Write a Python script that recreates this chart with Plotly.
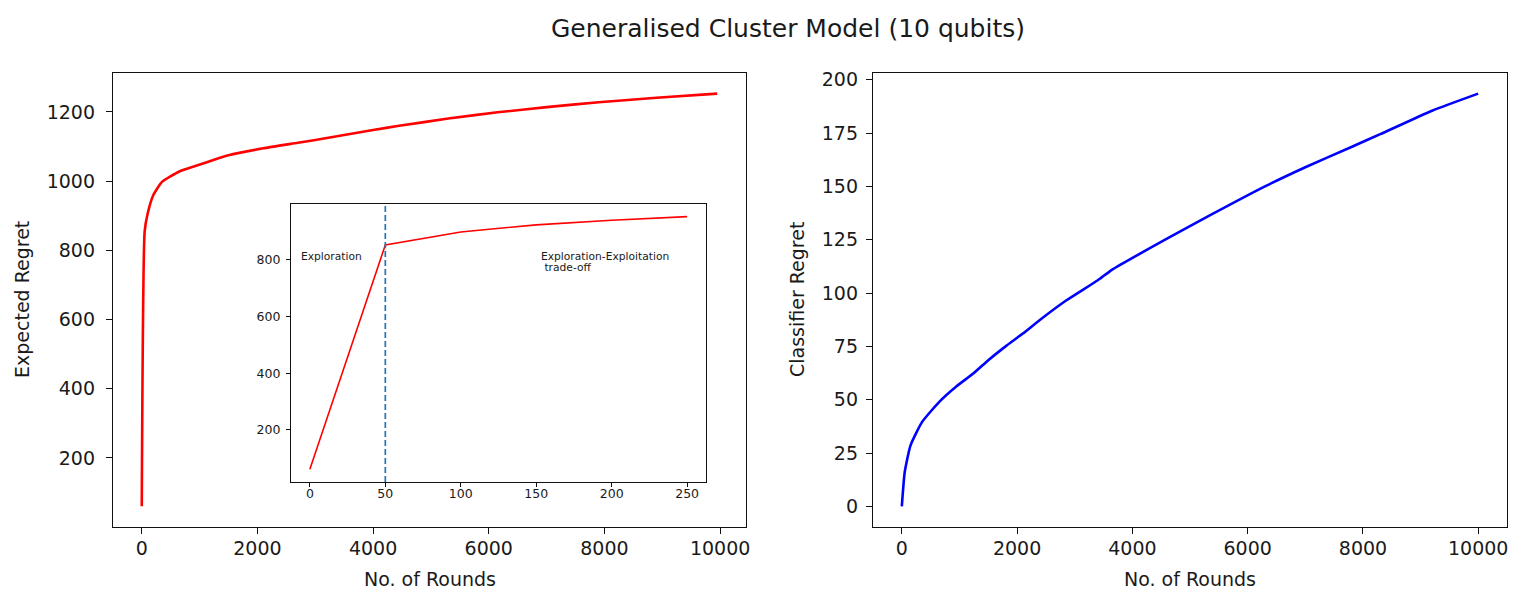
import plotly.graph_objects as go

# ---- data ----
main_rounds = [0, 50, 100, 200, 350, 650, 950, 1250, 1500, 2100, 2700, 3250, 4000,
               4450, 5300, 6150, 7000, 7900, 8900, 9950]
main_regret = [60, 855, 905, 960, 998, 1028, 1045, 1062, 1075, 1095, 1111, 1126, 1148,
               1160, 1181, 1199, 1214, 1228, 1241, 1253]

inset_rounds = [0, 50, 100, 150, 200, 250]
inset_regret = [60, 853, 899, 924, 940, 953]
exploration_end = 50

clf_rounds = [0, 50, 150, 350, 650, 950, 1250, 1500, 1800, 2100, 2400, 2850, 3400, 3650,
              4600, 5350, 6300, 7000, 7800, 8300, 9200, 9999]
clf_regret = [0, 16, 28.5, 39.5, 49, 56.3, 62.5, 68.5, 75, 81, 87.5, 96.5, 106, 111,
              125.5, 136.5, 150, 159, 168.5, 174.5, 185.5, 193.5]

main_xticks = [0, 2000, 4000, 6000, 8000, 10000]
main_xtick_text = ["0", "2000", "4000", "6000", "8000", "10000"]
left_yticks = [200, 400, 600, 800, 1000, 1200]
right_yticks = [0, 25, 50, 75, 100, 125, 150, 175, 200]
inset_xticks = [0, 50, 100, 150, 200, 250]
inset_yticks = [200, 400, 600, 800]

title_text = "Generalised Cluster Model (10 qubits)"
xlabel = "No. of Rounds"
ylabel_left = "Expected Regret"
ylabel_right = "Classifier Regret"


def pad(vals, frac=0.05):
    lo, hi = min(vals), max(vals)
    m = (hi - lo) * frac
    return [lo - m, hi + m]


W, H = 1527, 606
OFF = 8  # page body margin offsets the figure on screen
FONT = "DejaVu Sans"
TXT = "#1a1a1a"


def PX(p):
    return (p - OFF) / W


def PY(p):
    return 1 - (p - OFF) / H


def px(a, b):
    return [PX(a), PX(b)]


def py(top, bottom):
    return [PY(bottom), PY(top)]


fig = go.Figure()
fig.add_trace(go.Scatter(x=main_rounds, y=main_regret, mode="lines",
                         line=dict(color="#ff0000", width=2.6, shape="spline", smoothing=0.5),
                         xaxis="x", yaxis="y", showlegend=False))
fig.add_trace(go.Scatter(x=clf_rounds, y=clf_regret, mode="lines",
                         line=dict(color="#0000ff", width=2.6, shape="spline", smoothing=0.5),
                         xaxis="x2", yaxis="y2", showlegend=False))
fig.add_trace(go.Scatter(x=inset_rounds, y=inset_regret, mode="lines",
                         line=dict(color="#ff0000", width=1.6), xaxis="x3", yaxis="y3",
                         showlegend=False))

axis_common = dict(showline=True, mirror=True, linecolor="#111", linewidth=1.3,
                   ticks="outside", ticklen=6, tickwidth=1.3, tickcolor="#111",
                   showgrid=False, zeroline=False, automargin=False,
                   tickfont=dict(family=FONT, size=19, color=TXT))
inset_common = dict(showline=True, mirror=True, linecolor="#111", linewidth=1.1,
                    ticks="outside", ticklen=4, tickwidth=1.1, tickcolor="#111",
                    showgrid=False, zeroline=False, automargin=False,
                    tickfont=dict(family=FONT, size=12.5, color=TXT))

fig.update_layout(
    width=W, height=H,
    margin=dict(l=0, r=0, t=0, b=0, autoexpand=False),
    paper_bgcolor="white", plot_bgcolor="rgba(0,0,0,0)",
    showlegend=False,
    title=dict(text=title_text, x=PX(788), y=PY(28), xanchor="center", yanchor="middle",
               font=dict(family=FONT, size=25, color=TXT)),
    xaxis=dict(domain=px(113, 746), anchor="y", range=pad(main_rounds),
               tickvals=main_xticks, ticktext=main_xtick_text, ticklabelstandoff=-2,
               **axis_common),
    yaxis=dict(domain=py(73, 527), anchor="x", range=pad(main_regret),
               tickvals=left_yticks, ticklabelstandoff=7, **axis_common),
    xaxis2=dict(domain=px(873, 1507), anchor="y2", range=pad(clf_rounds),
                tickvals=main_xticks, ticktext=main_xtick_text, ticklabelstandoff=-2,
                **axis_common),
    yaxis2=dict(domain=py(73, 527), anchor="x2", range=pad(clf_regret),
                tickvals=right_yticks, ticklabelstandoff=4, **axis_common),
    xaxis3=dict(domain=px(291, 706), anchor="y3", range=pad(inset_rounds),
                tickvals=inset_xticks, ticklabelstandoff=-4, **inset_common),
    yaxis3=dict(domain=py(204, 482), anchor="x3", range=pad(inset_regret),
                tickvals=inset_yticks, ticklabelstandoff=3, **inset_common),
)

fig.add_shape(type="rect", xref="x3 domain", yref="y3 domain", x0=0, x1=1, y0=0, y1=1,
              fillcolor="white", line=dict(width=0), layer="below")

fig.add_shape(type="line", xref="x3", yref="y3 domain", x0=exploration_end, x1=exploration_end,
              y0=0, y1=1, line=dict(color="#1f77b4", width=1.7, dash="6px,3px"))

ann_font = dict(family=FONT, size=10.7, color=TXT)
fig.add_annotation(text="Exploration", xref="x3", yref="y3", x=-7.5, y=812,
                   xanchor="left", yanchor="middle", showarrow=False, font=ann_font)
fig.add_annotation(text="Exploration-Exploitation", xref="x3", yref="y3", x=152, y=812,
                   xanchor="left", yanchor="middle", showarrow=False, font=ann_font)
fig.add_annotation(text="\u00a0trade-off", xref="x3", yref="y3", x=152, y=773,
                   xanchor="left", yanchor="middle", showarrow=False, font=ann_font)

lab_font = dict(family=FONT, size=19, color=TXT)
fig.add_annotation(text=xlabel, xref="paper", yref="paper", x=PX(429.5), y=PY(579),
                   xanchor="center", yanchor="middle", showarrow=False, font=lab_font)
fig.add_annotation(text=xlabel, xref="paper", yref="paper", x=PX(1190), y=PY(579),
                   xanchor="center", yanchor="middle", showarrow=False, font=lab_font)
fig.add_annotation(text=ylabel_left, xref="paper", yref="paper", x=PX(22), y=PY(300),
                   xanchor="center", yanchor="middle", textangle=-90, showarrow=False,
                   font=lab_font)
fig.add_annotation(text=ylabel_right, xref="paper", yref="paper", x=PX(797), y=PY(300),
                   xanchor="center", yanchor="middle", textangle=-90, showarrow=False,
                   font=lab_font)

fig.write_html("out.html")
